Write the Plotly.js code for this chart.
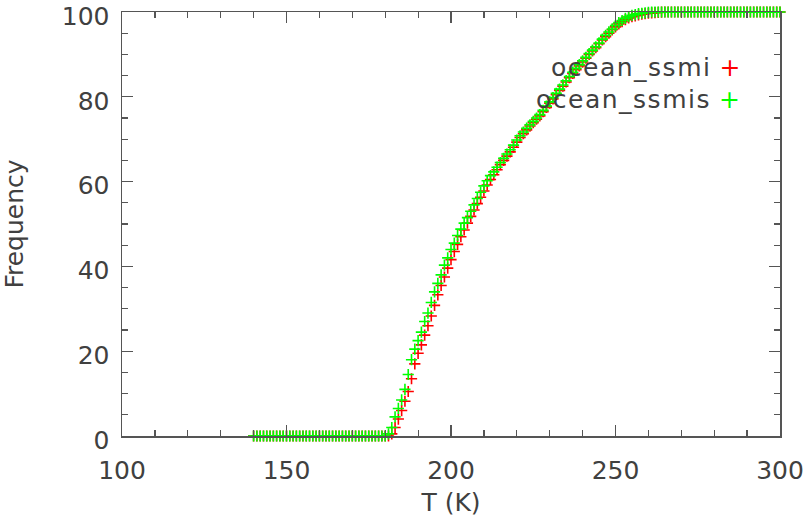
<!DOCTYPE html>
<html>
<head>
<meta charset="utf-8">
<script src="https://cdn.plot.ly/plotly-3.0.1.min.js"></script>
<style>html,body{margin:0;padding:0;background:#fff;}#chart{width:808px;height:520px;}</style>
</head>
<body>
<div id="chart"></div>
<script>
// Temperature (K)
var temps = [
140,141,142,143,144,145,146,147,148,149,
150,151,152,153,154,155,156,157,158,159,
160,161,162,163,164,165,166,167,168,169,
170,171,172,173,174,175,176,177,178,179,
180,181,182,183,184,185,186,187,188,189,
190,191,192,193,194,195,196,197,198,199,
200,201,202,203,204,205,206,207,208,209,
210,211,212,213,214,215,216,217,218,219,
220,221,222,223,224,225,226,227,228,229,
230,231,232,233,234,235,236,237,238,239,
240,241,242,243,244,245,246,247,248,249,
250,251,252,253,254,255,256,257,258,259,
260,261,262,263,264,265,266,267,268,269,
270,271,272,273,274,275,276,277,278,279,
280,281,282,283,284,285,286,287,288,289,
290,291,292,293,294,295,296,297,298,299,
300];

// ocean_ssmi cumulative frequency (%)
var ssmi = [
0,0,0,0,0,0,0,0,0,0,
0,0,0,0,0,0,0,0,0,0,
0,0,0,0,0,0,0,0,0,0,
0,0,0,0,0,0,0,0,0,0,
0,0,0.5,2,4,6,8.2,10.5,13.5,17,
19.5,21.5,23.8,26,28.3,30.8,33.3,35.5,37.5,39.6,
41.6,43.5,45.2,47,48.6,50.2,51.8,53.3,54.8,56.3,
57.8,59.2,60.5,61.6,62.8,64,65,66,67,68.1,
69.3,70.4,71.3,72.2,73.1,73.9,74.7,75.5,76.5,77.5,
78.5,79.5,80.5,81.5,82.5,83.5,84.5,85.5,86.4,87.3,
88.2,89.1,90,90.8,91.6,92.5,93.4,94.2,95,95.8,
96.5,97.2,97.7,98.2,98.6,98.9,99.1,99.3,99.5,99.6,
99.7,99.8,99.85,99.9,99.95,100,100,100,100,100,
100,100,100,100,100,100,100,100,100,100,
100,100,100,100,100,100,100,100,100,100,
100,100,100,100,100,100,100,100,100,100,
100];

// ocean_ssmis cumulative frequency (%)
var ssmis = [
0,0,0,0,0,0,0,0,0,0,
0,0,0,0,0,0,0,0,0,0,
0,0,0,0,0,0,0,0,0,0,
0,0,0,0,0,0,0,0,0,0,
0,0.5,2,4.5,6.5,8.5,11,14.5,18,20.5,
22.5,24.5,27,29,31.5,34,36,38,40.3,42,
44,45.5,47.3,48.8,50.2,51.5,53,54.5,56,57.5,
59,60.2,61.4,62.3,63.4,64.5,65.5,66.5,67.5,68.6,
69.8,70.8,71.7,72.6,73.4,74.2,75,75.8,76.8,77.8,
78.8,79.8,80.8,81.8,82.8,83.8,84.8,85.8,86.7,87.6,
88.5,89.3,90.2,91,91.8,92.7,93.6,94.5,95.3,96,
96.8,97.5,98,98.5,98.9,99.2,99.4,99.6,99.7,99.8,
99.9,100,100,100,100,100,100,100,100,100,
100,100,100,100,100,100,100,100,100,100,
100,100,100,100,100,100,100,100,100,100,
100,100,100,100,100,100,100,100,100,100,
100];

var seriesNames = ['ocean_ssmi', 'ocean_ssmis'];
var seriesColors = ['#ff0000', '#00ff00'];
var xTickVals = [100, 150, 200, 250, 300];
var yTickVals = [0, 20, 40, 60, 80, 100];

var txt = '#404040';
var fnt = 'DejaVu Sans, sans-serif';

function mk(y, i) {
  return {
    x: temps, y: y, type: 'scatter', mode: 'markers', name: seriesNames[i],
    showlegend: false, cliponaxis: false,
    marker: {symbol: 'cross-thin', size: 8, color: seriesColors[i],
             line: {color: seriesColors[i], width: 1.6}}
  };
}

var data = [mk(ssmi, 0), mk(ssmis, 1)];

var axisCommon = {
  showgrid: false, zeroline: false, showline: true, linecolor: '#555', linewidth: 1.5,
  mirror: 'allticks', ticks: 'inside', ticklen: 11, tickwidth: 1.3, tickcolor: '#555',
  ticklabeloverflow: 'allow',
  tickfont: {family: fnt, size: 25, color: txt}
};

var layout = {
  width: 808, height: 520,
  margin: {l: 122, r: 28, t: 12, b: 84},
  paper_bgcolor: '#fff', plot_bgcolor: '#fff',
  font: {family: fnt, color: txt},
  xaxis: Object.assign({}, axisCommon, {
    range: [100, 300], tickvals: xTickVals, ticklabelstandoff: 11,
    minor: {dtick: 10, ticks: 'inside', ticklen: 6, tickwidth: 1.2, tickcolor: '#555', showgrid: false},
    title: {text: 'T (K)', font: {family: fnt, size: 25, color: txt}, standoff: 10}
  }),
  yaxis: Object.assign({}, axisCommon, {
    range: [0, 100], tickvals: yTickVals, ticklabelstandoff: 6, ticklabelshift: 4,
    minor: {dtick: 5, ticks: 'inside', ticklen: 6, tickwidth: 1.2, tickcolor: '#555', showgrid: false},
    title: {text: 'Frequency', font: {family: fnt, size: 25, color: txt}, standoff: 34}
  }),
  annotations: [
    {xref: 'paper', yref: 'paper', x: (742 - 122) / 658, y: (436 - 68) / 424,
     xanchor: 'right', yanchor: 'middle', showarrow: false,
     font: {family: fnt, size: 25, color: txt},
     text: '<span style="letter-spacing:1.5px">' + seriesNames[0] + '</span> <span style="color:' + seriesColors[0] + '">+</span>'},
    {xref: 'paper', yref: 'paper', x: (742 - 122) / 658, y: (436 - 100) / 424,
     xanchor: 'right', yanchor: 'middle', showarrow: false,
     font: {family: fnt, size: 25, color: txt},
     text: '<span style="letter-spacing:1.5px">' + seriesNames[1] + '</span> <span style="color:' + seriesColors[1] + '">+</span>'}
  ]
};

Plotly.newPlot('chart', data, layout, {displayModeBar: false, staticPlot: true});
</script>
</body>
</html>
